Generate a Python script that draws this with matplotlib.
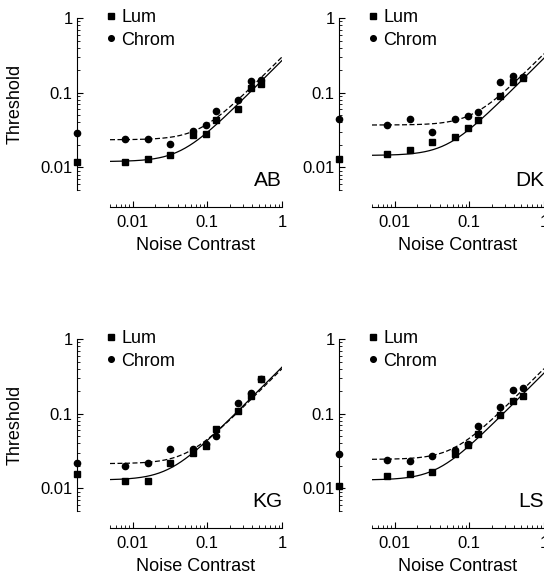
import numpy as np
import matplotlib
matplotlib.use('Agg')
import matplotlib.pyplot as plt
from matplotlib.ticker import LogLocator, FixedLocator, FixedFormatter, NullFormatter
from matplotlib.transforms import blended_transform_factory

plt.rcParams['font.family'] = ['Liberation Sans', 'DejaVu Sans']

# noise contrast levels (same for every observer)
noise = [0.008, 0.016, 0.032, 0.064, 0.096, 0.13, 0.26, 0.39, 0.52]

observers = ['AB', 'DK', 'KG', 'LS']

lum_AB = [0.0119, 0.013, 0.0147, 0.0275, 0.028, 0.0426, 0.061, 0.117, 0.13]
chrom_AB = [0.0239, 0.0239, 0.0207, 0.031, 0.0365, 0.0569, 0.081, 0.144, 0.148]
lum_DK = [0.0151, 0.0172, 0.0222, 0.0258, 0.0334, 0.043, 0.0898, 0.139, 0.159]
chrom_DK = [0.0366, 0.0449, 0.0298, 0.0449, 0.0487, 0.055, 0.138, 0.166, 0.16]
lum_KG = [0.0127, 0.0127, 0.0216, 0.0302, 0.037, 0.0618, 0.1086, 0.172, 0.293]
chrom_KG = [0.0197, 0.0216, 0.0341, 0.0335, 0.039, 0.0504, 0.1375, 0.187, 0.29]
lum_LS = [0.0146, 0.0158, 0.0167, 0.0293, 0.0378, 0.053, 0.097, 0.146, 0.172]
chrom_LS = [0.0244, 0.0236, 0.027, 0.0324, 0.039, 0.069, 0.123, 0.211, 0.22]

# thresholds with no noise (drawn on the y axis)
zero_lum = [0.0119, 0.0129, 0.0158, 0.0107]
zero_chrom = [0.029, 0.044, 0.0222, 0.0293]

# fitted curves: floor threshold and slope  t = sqrt(t0^2 + (k*c)^2)
fit_lum_t0 = [0.012, 0.0145, 0.013, 0.013]
fit_lum_k = [0.27, 0.29, 0.42, 0.35]
fit_chrom_t0 = [0.0235, 0.037, 0.0215, 0.0245]
fit_chrom_k = [0.30, 0.33, 0.40, 0.40]

lum_data = [lum_AB, lum_DK, lum_KG, lum_LS]
chrom_data = [chrom_AB, chrom_DK, chrom_KG, chrom_LS]

W, H = 544, 577
fig = plt.figure(figsize=(W/100, H/100), dpi=100)

# panel placement in pixels: left edge, top edge of data area
boxes = [(110, 18), (372, 18), (110, 339), (372, 339)]
size = 172

c_fit = np.logspace(np.log10(0.005), 0, 200)
yspine_off = -33/size

for i, name in enumerate(observers):
    x0, y0 = boxes[i]
    ax = fig.add_axes([x0/W, 1-(y0+size)/H, size/W, size/H])
    ax.set_xscale('log')
    ax.set_yscale('log')
    ax.set_xlim(0.005, 1)
    ax.set_ylim(0.005, 1)
    ax.patch.set_visible(False)

    for s in ['top', 'right']:
        ax.spines[s].set_visible(False)
    ax.spines['left'].set_position(('axes', yspine_off))
    ax.spines['bottom'].set_position(('outward', 12))
    for s in ['left', 'bottom']:
        ax.spines[s].set_linewidth(0.8)

    ax.xaxis.set_major_locator(FixedLocator([0.01, 0.1, 1]))
    ax.xaxis.set_major_formatter(FixedFormatter(['0.01', '0.1', '1']))
    ax.yaxis.set_major_locator(FixedLocator([0.01, 0.1, 1]))
    ax.yaxis.set_major_formatter(FixedFormatter(['0.01', '0.1', '1']))
    ax.xaxis.set_minor_locator(LogLocator(base=10, subs=np.arange(2, 10)))
    ax.yaxis.set_minor_locator(LogLocator(base=10, subs=np.arange(2, 10)))
    ax.xaxis.set_minor_formatter(NullFormatter())
    ax.yaxis.set_minor_formatter(NullFormatter())
    ax.tick_params(which='major', direction='in', length=4, width=0.8,
                   labelsize=12)
    ax.tick_params(which='minor', direction='in', length=2.2, width=0.6)
    ax.tick_params(axis='x', which='major', pad=6)
    ax.tick_params(axis='y', which='major', pad=3)

    # fitted curves
    t_l = np.sqrt(fit_lum_t0[i]**2 + (fit_lum_k[i]*c_fit)**2)
    t_c = np.sqrt(fit_chrom_t0[i]**2 + (fit_chrom_k[i]*c_fit)**2)
    ax.plot(c_fit, t_l, color='k', lw=0.9)
    ax.plot(c_fit, t_c, color='k', lw=0.9, dashes=(4, 2))

    # data
    l1, = ax.plot(noise, lum_data[i], 's', color='k', ms=4.5, linestyle='none')
    l2, = ax.plot(noise, chrom_data[i], 'o', color='k', ms=4.5, linestyle='none')

    # no-noise thresholds on the y axis
    trans = blended_transform_factory(ax.transAxes, ax.transData)
    ax.plot([yspine_off], [zero_lum[i]], 's', color='k', ms=4.5,
            transform=trans, clip_on=False)
    ax.plot([yspine_off], [zero_chrom[i]], 'o', color='k', ms=4.5,
            transform=trans, clip_on=False)

    ax.legend([l1, l2], ['Lum', 'Chrom'], loc='upper left',
              bbox_to_anchor=(-0.02, 1.05), frameon=False, fontsize=13,
              handlelength=0.5, handletextpad=0.3, borderpad=0,
              borderaxespad=0, labelspacing=0.3, markerscale=0.9)

    ax.text(1.0, 0.0, name, transform=ax.transAxes, ha='right', va='bottom',
            fontsize=15)

    ax.set_xlabel('Noise Contrast', fontsize=13, labelpad=5)
    if i % 2 == 0:
        ax.set_ylabel('Threshold', fontsize=13)
        ax.yaxis.set_label_coords(-0.50, 0.5)

fig.savefig('out.png', dpi=100)
